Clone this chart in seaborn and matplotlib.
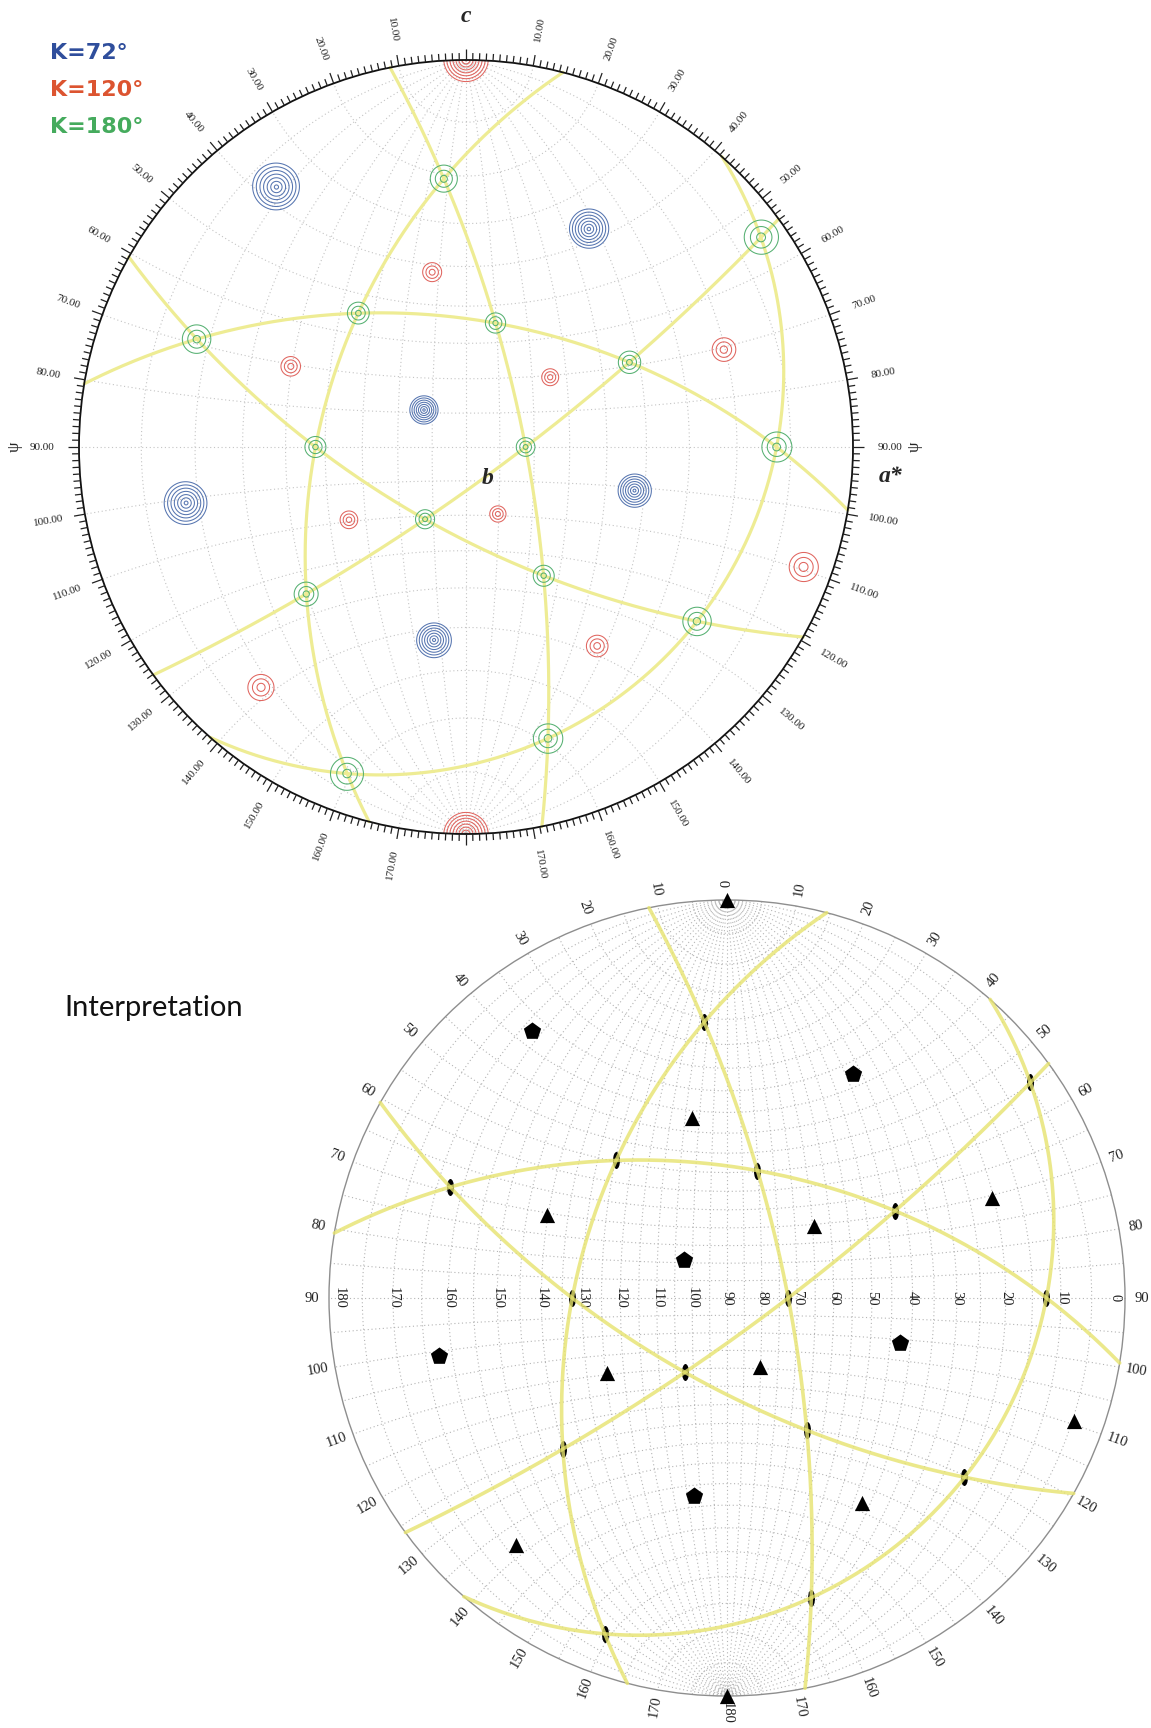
import numpy as np
import pandas as pd
import matplotlib
matplotlib.use("Agg")
import matplotlib.pyplot as plt
import seaborn as sns
from matplotlib.patches import Circle
from matplotlib.path import Path

# ---- self-rotation function peaks, (psi, phi) in degrees ----
# psi is measured from c, phi from a* towards b (b points at the viewer)
k72_psi = [37.4, 37.4, 79.2, 100.8, 100.8, 142.6]
k72_phi = [42.5, 162.5, 102.5, 42.5, 162.5, 102.5]
k72_height = [7.6, 7.6, 7.6, 7.6, 7.6, 7.6]
k72_width = [0.62, 0.62, 0.62, 0.62, 0.62, 0.62]

k120_psi = [0.0, 41.8, 70.5, 70.5, 70.5, 109.5, 109.5, 109.5, 138.2, 138.2]
k120_phi = [90.0, 102.5, 20.3, 64.7, 140.3, 4.7, 80.3, 124.7, 42.5, 162.5]
k120_height = [8.3, 3.9, 3.9, 3.9, 3.9, 3.9, 3.9, 3.9, 3.9, 3.9]
k120_width = [0.45, 0.8, 0.8, 0.8, 0.8, 0.8, 0.8, 0.8, 0.8, 0.8]

k180_psi = [20.9, 54.7, 54.7, 54.7, 69.1, 69.1, 90.0, 90.0, 90.0,
            110.9, 125.3, 125.3, 125.3, 159.1, 159.1]
k180_phi = [102.5, 4.7, 80.3, 124.7, 42.5, 162.5, 12.5, 72.5, 132.5,
            102.5, 20.3, 64.7, 140.3, 42.5, 162.5]
k180_height = [3.7] * 15
k180_width = [1.0] * 15

legend_labels = ["\u039a=72\u00b0", "\u039a=120\u00b0", "\u039a=180\u00b0"]
rim_psi = list(range(10, 180, 10))
equator_phi = list(range(180, -1, -10))

# ---- colours ----
C_BLUE, C_RED, C_GREEN = "#5675b0", "#e0655f", "#55b071"
C_LEG = ["#2f4e9c", "#dc5430", "#45ab5d"]
C_YELLOW = "#eeec94"

sns.set_theme(style="white")
plt.rcParams["font.family"] = ["DejaVu Sans"]
SERIF = "Liberation Serif"

W, H = 1151, 1728
fig = plt.figure(figsize=(W / 100, H / 100), dpi=100)
fig.patch.set_facecolor("white")


def disk_axes(cx, cy, R, L=1.25):
    ax = fig.add_axes([(cx - L * R) / W, 1 - (cy + L * R) / H,
                       2 * L * R / W, 2 * L * R / H])
    ax.set_xlim(-L, L)
    ax.set_ylim(-L, L)
    ax.set_axis_off()
    ax.patch.set_alpha(0)
    return ax


def unit(psi, phi):
    psi, phi = np.radians(psi), np.radians(phi)
    return np.stack([np.sin(psi) * np.cos(phi), np.sin(psi) * np.sin(phi),
                     np.cos(psi)], -1)


def proj(psi, phi):
    v = unit(np.asarray(psi, float), np.asarray(phi, float))
    d = 1 + v[..., 1]
    return v[..., 0] / d, v[..., 2] / d


def draw_net(ax, step, color, lw):
    t = np.linspace(0, 180, 721)
    for phi in np.arange(step, 180, step):
        X, Z = proj(t, np.full_like(t, phi))
        ax.plot(X, Z, color=color, lw=lw, ls=(0, (1, 2.4)), zorder=1)
    for psi in np.arange(step, 180, step):
        X, Z = proj(np.full_like(t, psi), t)
        ax.plot(X, Z, color=color, lw=lw, ls=(0, (1, 2.4)), zorder=1)


def great_circles(ax, color, lw, alpha, z):
    # circles perpendicular to each five-fold axis
    for ps, ph in zip(k72_psi, k72_phi):
        p = unit(ps, ph)
        u = np.cross(p, [0.0, 1.0, 0.0])
        u /= np.linalg.norm(u)
        w = np.cross(p, u)
        if w[1] < 0:
            w = -w
        t = np.linspace(0, np.pi, 600)
        v = np.outer(np.cos(t), u) + np.outer(np.sin(t), w)
        X = v[:, 0] / (1 + v[:, 1])
        Z = v[:, 2] / (1 + v[:, 1])
        ax.plot(X, Z, color=color, lw=lw, alpha=alpha, zorder=z,
                solid_capstyle="round")


def peak_field(psis, phis, heights, widths, X, Z):
    r2 = X ** 2 + Z ** 2
    d = 1 + r2
    x, y, z = 2 * X / d, (1 - r2) / d, 2 * Z / d
    f = np.full(X.shape, -10.0)
    for ps, ph, h, w in zip(psis, phis, heights, widths):
        p = unit(ps, ph)
        c = np.clip(np.abs(x * p[0] + y * p[1] + z * p[2]), 0, 1)
        th = np.degrees(np.arccos(c))
        f = np.maximum(f, h - th / w)
    return f


def rim_labels(ax, R, off_px, fmt, size, color):
    r = 1 + off_px / R
    for psi in rim_psi:
        a = np.radians(psi)
        ax.text(np.sin(a) * r, np.cos(a) * r, fmt.format(psi), rotation=90 - psi,
                rotation_mode="anchor", ha="center", va="center",
                fontsize=size, family=SERIF, color=color)
        ax.text(-np.sin(a) * r, np.cos(a) * r, fmt.format(psi), rotation=psi - 90,
                rotation_mode="anchor", ha="center", va="center",
                fontsize=size, family=SERIF, color=color)


# ===================== top: self-rotation function =====================
R1 = 387
ax1 = disk_axes(466, 447, R1)
draw_net(ax1, 10, "#c4c4c4", 0.8)
great_circles(ax1, C_YELLOW, 2.3, 1.0, 2)

g = np.linspace(-1.03, 1.03, 901)
GX, GZ = np.meshgrid(g, g)
clip = Circle((0, 0), 1, transform=ax1.transData)
levels = np.arange(1, 9)
for ps, ph, hh, ww, col in [(k72_psi, k72_phi, k72_height, k72_width, C_BLUE),
                            (k120_psi, k120_phi, k120_height, k120_width, C_RED),
                            (k180_psi, k180_phi, k180_height, k180_width, C_GREEN)]:
    F = peak_field(ps, ph, hh, ww, GX, GZ)
    cs = ax1.contour(GX, GZ, F, levels=levels, colors=col, linewidths=0.75,
                     zorder=3)
    cs.set_clip_path(clip)

ax1.add_patch(Circle((0, 0), 1, fill=False, lw=1.3, ec="#111111", zorder=4))
for deg in range(360):
    a = np.radians(deg)
    ln = 11 if deg % 10 == 0 else 7
    r0, r1 = 1.0, 1 + ln / R1
    ax1.plot([np.sin(a) * r0, np.sin(a) * r1], [np.cos(a) * r0, np.cos(a) * r1],
             color="#222222", lw=0.9, zorder=4, solid_capstyle="butt")
rim_labels(ax1, R1, 37, "{:.2f}", 8, "#222222")

ax1.text(0, 1 + 43 / R1, "c", fontsize=17, family=SERIF, weight="bold",
         style="italic", ha="center", va="center")
ax1.text(22 / R1, -31 / R1, "b", fontsize=17, family=SERIF, weight="bold",
         style="italic", ha="center", va="center")
ax1.text(1 + 38 / R1, -29 / R1, "a*", fontsize=17, family=SERIF, weight="bold",
         style="italic", ha="center", va="center")
ax1.text(-1 - 64 / R1, 0, "\u03c8", fontsize=12, family=SERIF, rotation=90,
         ha="center", va="center")
ax1.text(1 + 62 / R1, 0, "\u03c8", fontsize=12, family=SERIF, rotation=90,
         ha="center", va="center")

for i, (lab, col) in enumerate(zip(legend_labels, C_LEG)):
    fig.text(50 / W, 1 - (53 + 37 * i) / H, lab, color=col, fontsize=16,
             weight="bold", ha="left", va="center", family="DejaVu Sans")

# ===================== bottom: interpretation =====================
R2 = 398
ax2 = disk_axes(727, 1298, R2)
draw_net(ax2, 5, "#b4b4b4", 0.8)
ax2.add_patch(Circle((0, 0), 1, fill=False, lw=1.0, ec="#8e8e8e", zorder=2))


def points(psis, phis):
    ps, ph = list(psis), list(phis)
    for a, b in zip(psis, phis):
        if a == 0:
            ps.append(180.0)
            ph.append(b)
    X, Z = proj(ps, ph)
    return pd.DataFrame({"X": X, "Z": Z})


ell = Path.unit_circle()
ell = Path(ell.vertices * np.array([0.41, 1.0]), ell.codes)
sns.scatterplot(data=points(k180_psi, k180_phi), x="X", y="Z", ax=ax2,
                marker=ell, s=150, color="black", linewidth=0, zorder=3,
                legend=False)
great_circles(ax2, "#e6e36e", 2.6, 0.8, 4)
sns.scatterplot(data=points(k120_psi, k120_phi), x="X", y="Z", ax=ax2,
                marker="^", s=120, color="black", linewidth=0, zorder=5,
                legend=False)
sns.scatterplot(data=points(k72_psi, k72_phi), x="X", y="Z", ax=ax2,
                marker="p", s=170, color="black", linewidth=0, zorder=5,
                legend=False)
ax2.set_xlim(-1.25, 1.25)
ax2.set_ylim(-1.25, 1.25)
ax2.set_axis_off()

rim_labels(ax2, R2, 17, "{:d}", 10.5, "#222222")
ax2.text(0, 1 + 17 / R2, "0", rotation=90, rotation_mode="anchor", ha="center",
         va="center", fontsize=10.5, family=SERIF, color="#222222")
ax2.text(0, -1 - 17 / R2, "180", rotation=-90, rotation_mode="anchor",
         ha="center", va="center", fontsize=10.5, family=SERIF, color="#222222")
lim = 1 - 10 / R2
for phi in equator_phi:
    X, _ = proj(90.0, float(phi))
    X = float(np.clip(X, -lim, lim))
    ax2.text(X, 0, str(phi), rotation=-90, ha="center", va="center",
             fontsize=10.5, family=SERIF, color="#222222")

fig.text(64 / W, 1 - 1008 / H, "Interpretation", fontsize=21, family="Lato",
         ha="left", va="center", color="#111111")

fig.savefig("out.png", dpi=100, facecolor="white")
